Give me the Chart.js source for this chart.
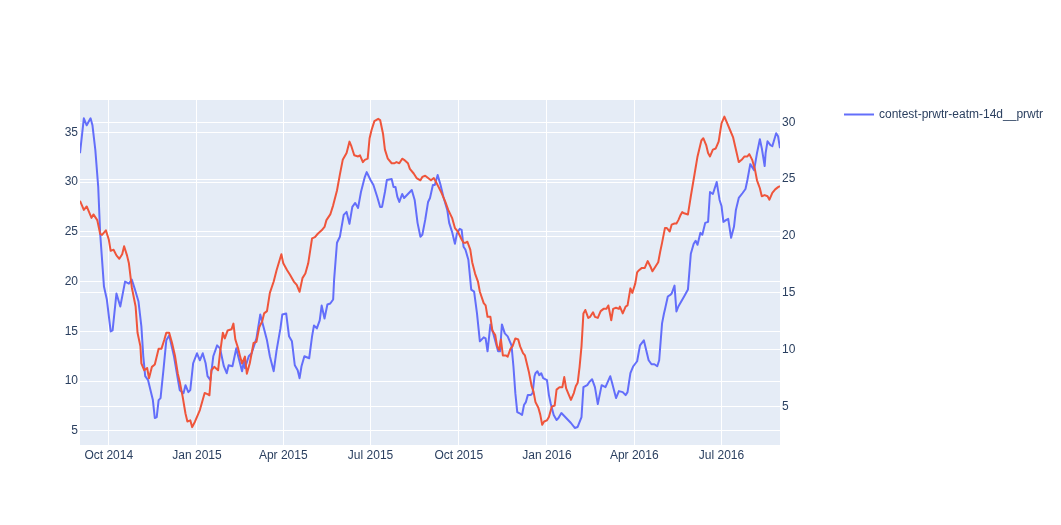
<!DOCTYPE html>
<html>
<head>
<meta charset="utf-8">
<script src="https://cdn.jsdelivr.net/npm/chart.js@4.4.1/dist/chart.umd.min.js"></script>
<style>
  html, body { margin: 0; padding: 0; background: #fff; }
  #wrap { width: 1061px; height: 525px; }
</style>
</head>
<body>
<div id="wrap"><canvas id="chart" width="1061" height="525"></canvas></div>
<script>
// x tick positions and their labels
var xTickDates = ['2014-10-01', '2015-01-01', '2015-04-01', '2015-07-01', '2015-10-01', '2016-01-01', '2016-04-01', '2016-07-01'];
var xTickLabels = ['Oct 2014', 'Jan 2015', 'Apr 2015', 'Jul 2015', 'Oct 2015', 'Jan 2016', 'Apr 2016', 'Jul 2016'];
var leftTicks = [5, 10, 15, 20, 25, 30, 35];
var rightTicks = [5, 10, 15, 20, 25, 30];

// blue series (left axis)
var blueDates = [
  '2014-09-01','2014-09-05','2014-09-08','2014-09-12','2014-09-14','2014-09-17','2014-09-20','2014-09-22','2014-09-26','2014-09-29',
  '2014-10-03','2014-10-05','2014-10-09','2014-10-13','2014-10-18','2014-10-22','2014-10-25','2014-10-28','2014-11-01','2014-11-04',
  '2014-11-06','2014-11-08','2014-11-11','2014-11-16','2014-11-18','2014-11-20','2014-11-22','2014-11-24','2014-11-27','2014-11-30',
  '2014-12-03','2014-12-08','2014-12-11','2014-12-14','2014-12-18','2014-12-20','2014-12-23','2014-12-25','2014-12-28','2015-01-01',
  '2015-01-04','2015-01-07','2015-01-10','2015-01-12','2015-01-15','2015-01-18','2015-01-22','2015-01-25','2015-01-29','2015-02-01',
  '2015-02-03','2015-02-07','2015-02-11','2015-02-13','2015-02-17','2015-02-19','2015-02-20','2015-02-24','2015-02-27','2015-03-04',
  '2015-03-08','2015-03-11','2015-03-15','2015-03-18','2015-03-22','2015-03-25','2015-03-29','2015-03-31','2015-04-04','2015-04-07',
  '2015-04-10','2015-04-13','2015-04-16','2015-04-18','2015-04-20','2015-04-23','2015-04-28','2015-05-01','2015-05-03','2015-05-06',
  '2015-05-09','2015-05-11','2015-05-14','2015-05-17','2015-05-20','2015-05-23','2015-05-24','2015-05-27','2015-05-30','2015-06-03',
  '2015-06-06','2015-06-09','2015-06-12','2015-06-15','2015-06-18','2015-06-21','2015-06-25','2015-06-27','2015-07-01','2015-07-04',
  '2015-07-08','2015-07-11','2015-07-13','2015-07-16','2015-07-18','2015-07-23','2015-07-25','2015-07-27','2015-07-29','2015-07-31',
  '2015-08-03','2015-08-05','2015-08-08','2015-08-13','2015-08-16','2015-08-19','2015-08-22','2015-08-24','2015-08-27','2015-08-30',
  '2015-09-01','2015-09-04','2015-09-06','2015-09-09','2015-09-12','2015-09-15','2015-09-19','2015-09-21','2015-09-24','2015-09-27',
  '2015-09-29','2015-10-02','2015-10-04','2015-10-06','2015-10-08','2015-10-11','2015-10-14','2015-10-17','2015-10-20','2015-10-23',
  '2015-10-27','2015-10-29','2015-10-31','2015-11-03','2015-11-06','2015-11-11','2015-11-13','2015-11-15','2015-11-18','2015-11-21',
  '2015-11-25','2015-11-27','2015-11-29','2015-12-01','2015-12-03','2015-12-06','2015-12-08','2015-12-10','2015-12-12','2015-12-15',
  '2015-12-17','2015-12-19','2015-12-20','2015-12-22','2015-12-24','2015-12-26','2015-12-28','2016-01-01','2016-01-03','2016-01-05',
  '2016-01-08','2016-01-11','2016-01-13','2016-01-16','2016-01-19','2016-01-23','2016-01-26','2016-01-30','2016-02-02','2016-02-06',
  '2016-02-08','2016-02-12','2016-02-14','2016-02-17','2016-02-20','2016-02-23','2016-02-27','2016-02-29','2016-03-02','2016-03-07',
  '2016-03-09','2016-03-13','2016-03-16','2016-03-20','2016-03-23','2016-03-25','2016-03-28','2016-03-31','2016-04-04','2016-04-07',
  '2016-04-11','2016-04-13','2016-04-16','2016-04-19','2016-04-22','2016-04-25','2016-04-27','2016-04-30','2016-05-02','2016-05-03',
  '2016-05-06','2016-05-09','2016-05-10','2016-05-13','2016-05-15','2016-05-17','2016-05-20','2016-05-23','2016-05-27','2016-05-30',
  '2016-06-02','2016-06-04','2016-06-06','2016-06-09','2016-06-11','2016-06-14','2016-06-17','2016-06-19','2016-06-22','2016-06-24',
  '2016-06-26','2016-06-29','2016-07-01','2016-07-03','2016-07-06','2016-07-08','2016-07-11','2016-07-14','2016-07-16','2016-07-19',
  '2016-07-23','2016-07-26','2016-07-28','2016-07-31','2016-08-02','2016-08-04','2016-08-07','2016-08-10','2016-08-12','2016-08-15',
  '2016-08-16','2016-08-18','2016-08-21','2016-08-23','2016-08-27','2016-08-29','2016-08-31'
];
var blueValues = [
  32.9,36.4,35.7,36.4,35.7,33.2,29.5,24.9,19.5,18.2,
  15.0,15.1,18.8,17.5,20.0,19.8,20.2,19.3,18.0,15.5,
  12.5,10.5,10.1,8.1,6.3,6.4,8.1,8.3,11.1,14.1,
  14.6,12.5,10.8,9.1,8.8,9.6,8.9,9.1,11.8,12.8,
  12.1,12.8,11.8,10.5,10.1,12.5,13.6,13.3,11.5,10.8,
  11.6,11.5,13.3,12.5,11.0,12.1,11.3,12.5,12.8,14.3,
  16.7,15.6,14.1,12.5,11.0,13.1,15.3,16.7,16.8,14.5,
  14.0,11.6,11.1,10.3,11.5,12.5,12.3,14.5,15.6,15.3,
  16.1,17.6,16.3,17.7,17.8,18.2,20.2,23.9,24.5,26.7,
  27.0,25.8,27.5,27.9,27.4,29.0,30.5,31.0,30.2,29.7,
  28.5,27.5,27.5,29.0,30.2,30.3,29.5,29.5,28.5,28.0,
  28.8,28.4,28.7,29.2,28.2,25.9,24.5,24.7,26.2,28.0,
  28.4,29.7,29.7,30.7,29.7,28.5,27.2,25.9,25.0,23.8,
  24.8,25.3,25.2,23.5,23.2,22.2,19.2,19.0,16.8,14.0,
  14.4,14.3,13.0,15.7,14.8,13.0,13.0,15.7,14.8,14.5,
  13.6,11.5,8.8,6.9,6.8,6.6,7.6,7.9,8.6,8.6,
  8.8,10.5,10.8,11.0,10.6,10.8,10.3,10.1,8.6,7.7,
  6.6,6.1,6.3,6.8,6.5,6.1,5.8,5.3,5.4,6.4,
  9.4,9.6,9.9,10.2,9.4,7.7,9.6,9.5,9.4,10.5,
  9.8,8.3,9.0,8.9,8.6,8.9,10.8,11.5,12.0,13.6,
  14.1,13.3,12.1,11.7,11.7,11.5,12.1,15.8,16.8,17.2,
  18.5,18.7,18.8,19.6,17.0,17.5,18.0,18.5,19.2,22.8,
  23.8,24.1,23.7,24.9,24.7,25.9,26.0,29.0,28.8,29.4,
  30.0,28.2,27.6,26.0,26.2,26.3,24.4,25.5,27.2,28.4,
  28.9,29.3,30.2,31.8,31.5,31.2,32.9,34.3,33.4,31.6,
  32.9,34.1,33.7,33.6,34.9,34.6,33.4
];

// red series (right axis)
var redDates = [
  '2014-09-01','2014-09-05','2014-09-08','2014-09-13','2014-09-15','2014-09-19','2014-09-22','2014-09-24','2014-09-28','2014-10-01',
  '2014-10-03','2014-10-06','2014-10-09','2014-10-12','2014-10-15','2014-10-17','2014-10-20','2014-10-22','2014-10-25','2014-10-29',
  '2014-10-31','2014-11-03','2014-11-04','2014-11-07','2014-11-10','2014-11-12','2014-11-15','2014-11-18','2014-11-22','2014-11-25',
  '2014-11-28','2014-11-30','2014-12-03','2014-12-06','2014-12-09','2014-12-12','2014-12-14','2014-12-17','2014-12-20','2014-12-22',
  '2014-12-25','2014-12-27','2014-12-30','2015-01-02','2015-01-04','2015-01-09','2015-01-12','2015-01-14','2015-01-16','2015-01-19',
  '2015-01-23','2015-01-25','2015-01-28','2015-01-30','2015-02-02','2015-02-06','2015-02-08','2015-02-10','2015-02-13','2015-02-15',
  '2015-02-17','2015-02-20','2015-02-22','2015-02-25','2015-02-27','2015-03-01','2015-03-04','2015-03-07','2015-03-10','2015-03-12',
  '2015-03-15','2015-03-18','2015-03-22','2015-03-25','2015-03-30','2015-04-01','2015-04-05','2015-04-08','2015-04-12','2015-04-15',
  '2015-04-18','2015-04-21','2015-04-24','2015-04-27','2015-05-01','2015-05-04','2015-05-07','2015-05-11','2015-05-14','2015-05-16',
  '2015-05-20','2015-05-23','2015-05-27','2015-05-30','2015-06-02','2015-06-06','2015-06-09','2015-06-11','2015-06-14','2015-06-18',
  '2015-06-20','2015-06-23','2015-06-25','2015-06-28','2015-06-30','2015-07-02','2015-07-05','2015-07-09','2015-07-11','2015-07-14',
  '2015-07-16','2015-07-19','2015-07-23','2015-07-26','2015-07-28','2015-07-31','2015-08-03','2015-08-05','2015-08-09','2015-08-11',
  '2015-08-15','2015-08-18','2015-08-22','2015-08-24','2015-08-27','2015-08-30','2015-09-02','2015-09-05','2015-09-07','2015-09-10',
  '2015-09-13','2015-09-17','2015-09-20','2015-09-24','2015-09-27','2015-09-30','2015-10-04','2015-10-06','2015-10-08','2015-10-10',
  '2015-10-13','2015-10-15','2015-10-18','2015-10-21','2015-10-23','2015-10-27','2015-10-29','2015-10-31','2015-11-03','2015-11-05',
  '2015-11-08','2015-11-10','2015-11-12','2015-11-14','2015-11-16','2015-11-19','2015-11-21','2015-11-24','2015-11-26','2015-11-29',
  '2015-12-02','2015-12-04','2015-12-07','2015-12-09','2015-12-11','2015-12-13','2015-12-16','2015-12-18','2015-12-20','2015-12-23',
  '2015-12-25','2015-12-27','2015-12-29','2016-01-01','2016-01-03','2016-01-06','2016-01-09','2016-01-11','2016-01-14','2016-01-17',
  '2016-01-19','2016-01-21','2016-01-24','2016-01-26','2016-01-29','2016-01-31','2016-02-02','2016-02-04','2016-02-06','2016-02-08',
  '2016-02-10','2016-02-13','2016-02-15','2016-02-18','2016-02-20','2016-02-23','2016-02-26','2016-02-29','2016-03-03','2016-03-05',
  '2016-03-08','2016-03-10','2016-03-13','2016-03-16','2016-03-17','2016-03-20','2016-03-23','2016-03-25','2016-03-28','2016-03-30',
  '2016-04-02','2016-04-04','2016-04-06','2016-04-09','2016-04-12','2016-04-15','2016-04-18','2016-04-20','2016-04-23','2016-04-26',
  '2016-04-28','2016-04-30','2016-05-03','2016-05-05','2016-05-08','2016-05-10','2016-05-13','2016-05-15','2016-05-17','2016-05-19',
  '2016-05-21','2016-05-23','2016-05-27','2016-05-30','2016-06-03','2016-06-06','2016-06-10','2016-06-12','2016-06-15','2016-06-17',
  '2016-06-19','2016-06-22','2016-06-25','2016-06-28','2016-07-01','2016-07-04','2016-07-07','2016-07-10','2016-07-13','2016-07-16',
  '2016-07-19','2016-07-22','2016-07-25','2016-07-28','2016-07-30','2016-08-02','2016-08-05','2016-08-07','2016-08-10','2016-08-12',
  '2016-08-15','2016-08-18','2016-08-20','2016-08-23','2016-08-26','2016-08-29','2016-08-31'
];
var redValues = [
  23.1,22.3,22.6,21.6,21.9,21.4,20.2,20.1,20.5,19.7,
  18.7,18.8,18.3,18.0,18.4,19.1,18.3,17.6,15.5,13.8,
  11.5,10.3,8.8,8.2,8.4,7.5,8.5,8.7,10.1,10.1,
  10.9,11.5,11.5,10.6,9.5,7.9,7.2,5.9,4.4,3.7,
  3.8,3.2,3.7,4.3,4.7,6.2,6.1,6.0,8.2,8.5,
  8.2,9.7,11.5,11.0,11.7,11.8,12.3,10.9,10.1,9.4,
  8.8,9.4,7.9,8.8,9.7,10.6,10.7,12.0,12.5,13.2,
  13.4,15.0,16.0,17.0,18.4,17.6,17.0,16.6,16.0,15.7,
  15.1,16.3,16.7,17.6,19.8,19.9,20.2,20.5,20.8,21.4,
  21.9,22.7,24.0,25.4,26.7,27.3,28.3,27.9,27.1,27.0,
  27.1,26.5,26.7,26.8,28.6,29.3,30.1,30.3,30.2,29.0,
  27.6,26.8,26.4,26.4,26.5,26.4,26.8,26.7,26.4,25.9,
  25.5,25.1,24.9,25.2,25.3,25.1,24.9,25.1,24.8,24.3,
  23.8,23.0,22.3,21.6,20.7,20.4,19.7,19.4,19.4,19.5,
  18.8,17.7,16.7,16.0,15.1,14.1,13.9,12.9,12.9,11.7,
  11.3,10.3,10.0,10.9,9.5,9.5,9.4,10.1,10.3,11.0,
  10.9,10.3,9.7,9.5,8.8,8.1,6.8,6.3,5.4,4.9,
  4.3,3.4,3.7,3.8,4.1,5.0,5.1,6.5,6.7,6.7,
  7.6,6.6,6.0,5.6,6.2,6.8,7.1,8.5,10.3,13.2,
  13.5,12.8,12.9,13.3,12.9,12.8,13.4,13.6,13.6,13.9,
  12.6,13.6,13.7,13.6,13.8,13.2,13.8,13.9,15.4,15.0,
  15.8,16.8,17.0,17.2,17.2,17.8,17.3,16.9,17.3,17.7,
  18.6,19.4,20.7,20.7,20.4,21.0,21.1,21.1,21.4,21.8,
  22.1,22.0,21.9,23.5,25.5,27.0,28.4,28.6,28.0,27.3,
  27.0,27.6,27.7,28.3,29.9,30.5,29.9,29.3,28.7,27.6,
  26.5,26.7,27.0,27.0,27.2,26.7,25.8,24.9,24.2,23.5,
  23.6,23.5,23.2,23.8,24.1,24.3,24.4
];

var FONT = '"Liberation Sans", Arial, sans-serif';
var TEXT = '#2a3f5f';

function toPoints(dates, values) {
  return dates.map(function(d, i) { return { x: Date.parse(d), y: values[i] }; });
}

Chart.defaults.font.family = FONT;
Chart.defaults.font.size = 12;
Chart.defaults.color = TEXT;

// plot background behind the grid
var plotBg = {
  id: 'plotBg',
  beforeDraw: function(chart) {
    var a = chart.chartArea, ctx = chart.ctx;
    ctx.save();
    ctx.fillStyle = '#E5ECF6';
    ctx.fillRect(a.left, a.top, a.right - a.left, a.bottom - a.top);
    ctx.restore();
  }
};

// one-entry legend to the right, like plotly's
var plotLegend = {
  id: 'plotLegend',
  afterDraw: function(chart) {
    var ds = chart.data.datasets[0], ctx = chart.ctx;
    var x0 = chart.chartArea.right + 64, y0 = chart.chartArea.top + 14.5;
    ctx.save();
    ctx.strokeStyle = ds.borderColor;
    ctx.lineWidth = 2;
    ctx.beginPath();
    ctx.moveTo(x0, y0);
    ctx.lineTo(x0 + 30, y0);
    ctx.stroke();
    ctx.fillStyle = TEXT;
    ctx.font = '12px ' + FONT;
    ctx.textBaseline = 'middle';
    ctx.fillText(ds.label, x0 + 35, y0 + 0.5);
    ctx.restore();
  }
};

var ctx = document.getElementById('chart').getContext('2d');
var chart = new Chart(ctx, {
  type: 'line',
  data: {
    datasets: [
      { label: 'contest-prwtr-eatm-14d__prwtr', data: toPoints(blueDates, blueValues), yAxisID: 'y',
        borderColor: '#636efa', borderWidth: 2, pointRadius: 0, borderJoinStyle: 'round', order: 1 },
      { label: 'trace 1', data: toPoints(redDates, redValues), yAxisID: 'y2',
        borderColor: '#EF553B', borderWidth: 2, pointRadius: 0, borderJoinStyle: 'round', order: 0 }
    ]
  },
  options: {
    responsive: false,
    animation: false,
    layout: { padding: { top: 100, left: 0, right: 0, bottom: 0 } },
    plugins: { legend: { display: false }, tooltip: { enabled: false } },
    scales: {
      x: {
        type: 'linear',
        min: Date.parse(blueDates[0]),
        max: Date.parse(blueDates[blueDates.length - 1]),
        afterBuildTicks: function(s) { s.ticks = xTickDates.map(function(d) { return { value: Date.parse(d) }; }); },
        afterFit: function(s) { s.height = 80; },
        ticks: { autoSkip: false, maxRotation: 0, padding: 3, callback: function(v, i) { return xTickLabels[i]; } },
        grid: { color: '#ffffff', lineWidth: 1, drawTicks: false },
        border: { display: false }
      },
      y: {
        position: 'left',
        min: 3.59, max: 38.24,
        afterBuildTicks: function(s) { s.ticks = leftTicks.map(function(v) { return { value: v }; }); },
        afterFit: function(s) { s.width = 80; },
        ticks: { padding: 2 },
        grid: { color: '#ffffff', lineWidth: 1, drawTicks: false },
        border: { display: false }
      },
      y2: {
        position: 'right',
        min: 1.63, max: 31.96,
        afterBuildTicks: function(s) { s.ticks = rightTicks.map(function(v) { return { value: v }; }); },
        afterFit: function(s) { s.width = 281; },
        ticks: { padding: 2 },
        grid: { color: '#ffffff', lineWidth: 1, drawTicks: false, drawOnChartArea: true },
        border: { display: false }
      }
    }
  },
  plugins: [plotBg, plotLegend]
});
</script>
</body>
</html>
